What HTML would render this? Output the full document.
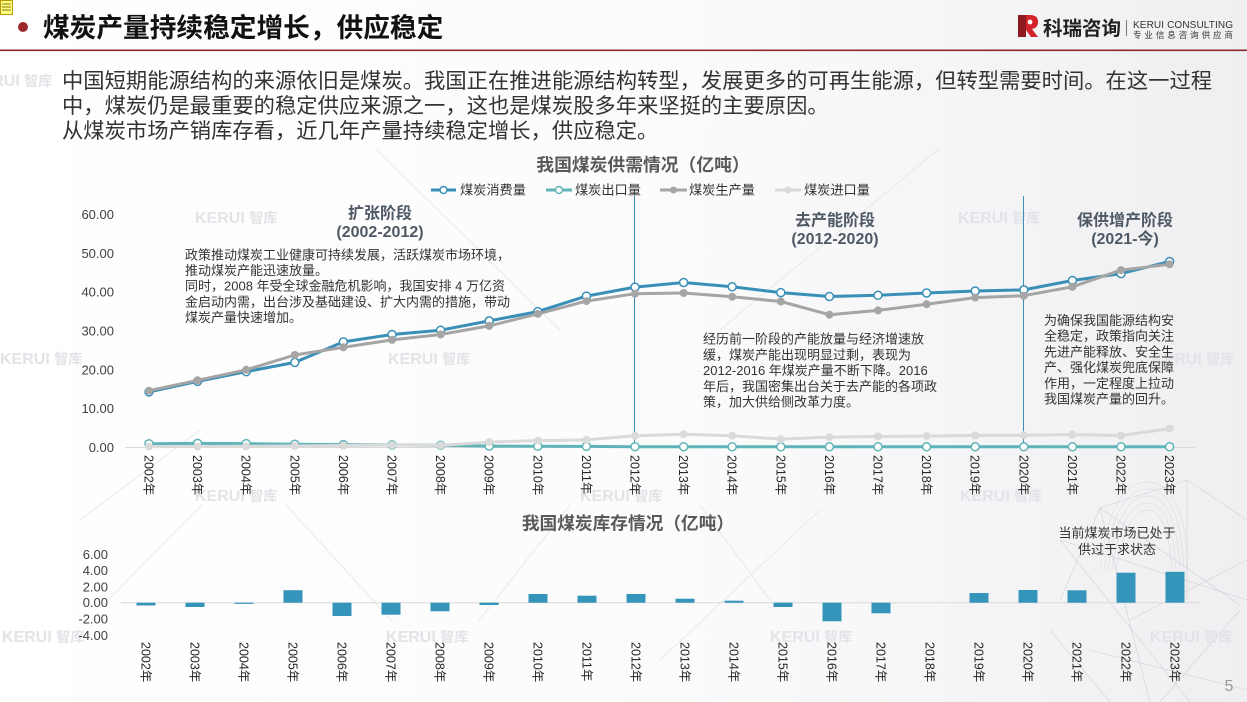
<!DOCTYPE html>
<html><head><meta charset="utf-8">
<style>
html,body{margin:0;padding:0;width:1247px;height:702px;overflow:hidden;background:#fff}
svg{display:block}
text{font-family:"Liberation Sans","Noto Sans CJK SC",sans-serif}
</style></head>
<body>
<svg width="1247" height="702" viewBox="0 0 1247 702" xmlns="http://www.w3.org/2000/svg">
<defs>
<linearGradient id="bg" x1="0" y1="0" x2="1" y2="0">
<stop offset="0" stop-color="#ffffff"/><stop offset="0.55" stop-color="#fbfbfc"/><stop offset="1" stop-color="#efeff2"/>
</linearGradient>
</defs>
<rect width="1247" height="702" fill="url(#bg)"/>

<!-- faint decorative lines -->
<g stroke="#e9e9eb" stroke-width="1" fill="none">
<line x1="202" y1="505" x2="110" y2="598"/>
<line x1="286" y1="505" x2="393" y2="622"/>
<line x1="570" y1="505" x2="478" y2="622"/>
<line x1="375" y1="148" x2="560" y2="330"/>
<line x1="720" y1="330" x2="940" y2="148"/>
<line x1="200" y1="430" x2="80" y2="520"/>
<line x1="820" y1="510" x2="660" y2="660"/>
<line x1="700" y1="505" x2="770" y2="600"/>
</g>
<!-- mesh bottom right -->
<g stroke="#d2d2d6" stroke-width="0.6" fill="none">
<line x1="1100" y1="508" x2="1187" y2="480"/>
<line x1="1100" y1="508" x2="1150" y2="702"/>
<line x1="1100" y1="508" x2="1240" y2="605"/>
<line x1="1060" y1="540" x2="1190" y2="702"/>
<line x1="1060" y1="540" x2="1247" y2="600"/>
<line x1="1187" y1="480" x2="1187" y2="600"/>
<line x1="1187" y1="480" x2="1247" y2="520"/>
<line x1="1130" y1="620" x2="1247" y2="560"/>
<line x1="1090" y1="650" x2="1247" y2="690"/>
<line x1="1100" y1="508" x2="1060" y2="600"/>
<line x1="1160" y1="702" x2="1240" y2="610"/>
<line x1="1050" y1="630" x2="1110" y2="702"/>
</g>
<g stroke="#d8d8dc" stroke-width="0.5" fill="none">
<path d="M1100,570 Q1110,480 1150,482 Q1185,485 1188,570"/>
<path d="M1104,570 Q1114,487 1150,489 Q1180,492 1184,570"/>
<path d="M1108,570 Q1118,494 1150,496 Q1176,499 1180,570"/>
<path d="M1112,570 Q1122,501 1150,503 Q1172,506 1176,570"/>
<path d="M1116,570 Q1126,508 1150,510 Q1168,513 1172,570"/>
</g>

<!-- watermarks -->
<g fill="#e3e3e8" font-weight="bold">
<text x="195" y="223" font-size="16">KERUI <tspan font-size="14">智库</tspan></text>
<text x="958" y="223" font-size="16">KERUI <tspan font-size="14">智库</tspan></text>
<text x="-30" y="86" font-size="16">KERUI <tspan font-size="14">智库</tspan></text>
<text x="0" y="364" font-size="16">KERUI <tspan font-size="14">智库</tspan></text>
<text x="388" y="364" font-size="16">KERUI <tspan font-size="14">智库</tspan></text>
<text x="1152" y="364" font-size="16">KERUI <tspan font-size="14">智库</tspan></text>
<text x="195" y="501" font-size="16">KERUI <tspan font-size="14">智库</tspan></text>
<text x="580" y="501" font-size="16">KERUI <tspan font-size="14">智库</tspan></text>
<text x="960" y="501" font-size="16">KERUI <tspan font-size="14">智库</tspan></text>
<text x="2" y="642" font-size="16">KERUI <tspan font-size="14">智库</tspan></text>
<text x="386" y="642" font-size="16">KERUI <tspan font-size="14">智库</tspan></text>
<text x="770" y="642" font-size="16">KERUI <tspan font-size="14">智库</tspan></text>
<text x="1150" y="642" font-size="16">KERUI <tspan font-size="14">智库</tspan></text>
</g>

<!-- note icon -->
<rect x="0.5" y="0.5" width="12" height="14" fill="#ffff88" stroke="#b89a00" stroke-width="1"/>
<g stroke="#8a7a00" stroke-width="1"><line x1="2" y1="4" x2="11" y2="4"/><line x1="2" y1="7" x2="11" y2="7"/><line x1="2" y1="10" x2="11" y2="10"/></g>

<!-- header -->
<circle cx="23" cy="27" r="5" fill="#9c2a2a"/>
<text x="43" y="37" font-size="26.7" font-weight="bold" fill="#111">煤炭产量持续稳定增长，供应稳定</text>
<rect x="0" y="49.5" width="1247" height="1.6" fill="#8a2a2a"/>

<!-- logo -->
<path d="M1018,15 L1026,15 L1026,37 L1018,37 Z" fill="#8e1b1f"/>
<path d="M1026,15 L1030,15 Q1038,15 1038,22 Q1038,28 1032,29 L1038,37 L1031,37 L1026,30 Z" fill="#d2232a"/>
<circle cx="1030" cy="22" r="2.4" fill="#fff"/>
<text x="1043" y="35" font-size="19.5" font-weight="bold" fill="#222">科瑞咨询</text>
<line x1="1126.5" y1="20" x2="1126.5" y2="36" stroke="#777" stroke-width="1"/>
<text x="1133" y="28" font-size="10" fill="#333" textLength="100" lengthAdjust="spacing">KERUI CONSULTING</text>
<text x="1133" y="38" font-size="8.5" fill="#333" textLength="100" lengthAdjust="spacing">专业信息咨询供应商</text>

<!-- paragraph -->
<g font-size="21.3" fill="#333">
<text x="62" y="88">中国短期能源结构的来源依旧是煤炭。我国正在推进能源结构转型，发展更多的可再生能源，但转型需要时间。在这一过程</text>
<text x="62" y="113">中，煤炭仍是最重要的稳定供应来源之一，这也是煤炭股多年来坚挺的主要原因。</text>
<text x="62" y="138">从煤炭市场产销库存看，近几年产量持续稳定增长，供应稳定。</text>
</g>

<!-- top chart title & legend -->
<text x="643" y="171" font-size="17.8" font-weight="bold" fill="#595959" text-anchor="middle">我国煤炭供需情况（亿吨）</text>
<g font-size="13.2" fill="#333">
<line x1="431" y1="190" x2="456" y2="190" stroke="#3a8fb7" stroke-width="3"/>
<circle cx="443.5" cy="190" r="3.5" fill="#fff" stroke="#3a8fb7" stroke-width="1.5"/>
<text x="460" y="194.5">煤炭消费量</text>
<line x1="546" y1="190" x2="572" y2="190" stroke="#5fb4b8" stroke-width="3"/>
<circle cx="559" cy="190" r="3.5" fill="#fff" stroke="#5fb4b8" stroke-width="1.5"/>
<text x="575" y="194.5">煤炭出口量</text>
<line x1="660" y1="190" x2="687" y2="190" stroke="#a5a5a5" stroke-width="3"/>
<circle cx="673.5" cy="190" r="3.5" fill="#a5a5a5"/>
<text x="689" y="194.5">煤炭生产量</text>
<line x1="775" y1="190" x2="801" y2="190" stroke="#dadada" stroke-width="3"/>
<circle cx="788" cy="190" r="3.5" fill="#dadada"/>
<text x="804" y="194.5">煤炭进口量</text>
</g>

<!-- y axis top -->
<g font-size="13" fill="#404040" text-anchor="end">
<text x="114" y="219">60.00</text>
<text x="114" y="257.8">50.00</text>
<text x="114" y="296.7">40.00</text>
<text x="114" y="335.5">30.00</text>
<text x="114" y="374.4">20.00</text>
<text x="114" y="413.2">10.00</text>
<text x="114" y="452">0.00</text>
</g>
<line x1="125" y1="447.5" x2="1195" y2="447.5" stroke="#d9d9d9" stroke-width="1"/>

<!-- vertical phase lines -->
<line x1="634.5" y1="196" x2="634.5" y2="447" stroke="#3a8fb7" stroke-width="1"/>
<line x1="1023.5" y1="196" x2="1023.5" y2="447" stroke="#3a8fb7" stroke-width="1"/>

<!-- phase labels -->
<g font-size="16" font-weight="bold" fill="#4f5965" text-anchor="middle">
<text x="380" y="218.5">扩张阶段</text>
<text x="380" y="237">(2002-2012)</text>
<text x="835" y="225.5">去产能阶段</text>
<text x="835" y="244">(2012-2020)</text>
<text x="1125" y="225.5">保供增产阶段</text>
<text x="1125" y="244">(2021-今)</text>
</g>

<!-- annotations -->
<g font-size="13" fill="#333">
<text x="185" y="259.5">政策推动煤炭工业健康可持续发展，活跃煤炭市场环境，</text>
<text x="185" y="275.1">推动煤炭产能迅速放量。</text>
<text x="185" y="290.7">同时，2008 年受全球金融危机影响，我国安排 4 万亿资</text>
<text x="185" y="306.3">金启动内需，出台涉及基础建设、扩大内需的措施，带动</text>
<text x="185" y="321.9">煤炭产量快速增加。</text>

<text x="703" y="343.5">经历前一阶段的产能放量与经济增速放</text>
<text x="703" y="359.3">缓，煤炭产能出现明显过剩，表现为</text>
<text x="703" y="375.1">2012-2016 年煤炭产量不断下降。2016</text>
<text x="703" y="390.9">年后，我国密集出台关于去产能的各项政</text>
<text x="703" y="406.7">策，加大供给侧改革力度。</text>

<text x="1044" y="325">为确保我国能源结构安</text>
<text x="1044" y="340.7">全稳定，政策指向关注</text>
<text x="1044" y="356.4">先进产能释放、安全生</text>
<text x="1044" y="372.1">产、强化煤炭兜底保障</text>
<text x="1044" y="387.8">作用，一定程度上拉动</text>
<text x="1044" y="403.5">我国煤炭产量的回升。</text>
</g>

<!-- series -->
<polyline fill="none" stroke="#3a8fb7" stroke-width="3" stroke-linejoin="round" points="149,391.9 197.6,381.4 246.2,371.7 294.8,362.4 343.4,341.9 392,334.5 440.6,330.2 489.2,320.9 537.8,311.6 586.4,296.1 635,287.1 683.6,282.5 732.2,286.8 780.8,292.6 829.4,296.5 878,295.3 926.6,293.0 975.2,291.0 1023.8,289.9 1072.4,280.5 1121,273.6 1169.6,261.5"/>
<g fill="#fff" stroke="#3a8fb7" stroke-width="1.5">
<circle cx="149" cy="391.9" r="4"/><circle cx="197.6" cy="381.4" r="4"/><circle cx="246.2" cy="371.7" r="4"/><circle cx="294.8" cy="362.4" r="4"/><circle cx="343.4" cy="341.9" r="4"/><circle cx="392" cy="334.5" r="4"/><circle cx="440.6" cy="330.2" r="4"/><circle cx="489.2" cy="320.9" r="4"/><circle cx="537.8" cy="311.6" r="4"/><circle cx="586.4" cy="296.1" r="4"/><circle cx="635" cy="287.1" r="4"/><circle cx="683.6" cy="282.5" r="4"/><circle cx="732.2" cy="286.8" r="4"/><circle cx="780.8" cy="292.6" r="4"/><circle cx="829.4" cy="296.5" r="4"/><circle cx="878" cy="295.3" r="4"/><circle cx="926.6" cy="293" r="4"/><circle cx="975.2" cy="291" r="4"/><circle cx="1023.8" cy="289.9" r="4"/><circle cx="1072.4" cy="280.5" r="4"/><circle cx="1121" cy="273.6" r="4"/><circle cx="1169.6" cy="261.5" r="4"/>
</g>

<polyline fill="none" stroke="#5fb4b8" stroke-width="3" stroke-linejoin="round" points="149,443.7 197.6,443.4 246.2,443.6 294.8,444.2 343.4,444.6 392,444.9 440.6,445.3 489.2,446.1 537.8,446.3 586.4,446.4 635,446.7 683.6,446.7 732.2,446.8 780.8,446.8 829.4,446.8 878,446.8 926.6,446.8 975.2,446.8 1023.8,446.8 1072.4,446.8 1121,446.8 1169.6,446.8"/>
<g fill="#fff" stroke="#5fb4b8" stroke-width="1.5">
<circle cx="149" cy="443.7" r="4"/><circle cx="197.6" cy="443.4" r="4"/><circle cx="246.2" cy="443.6" r="4"/><circle cx="294.8" cy="444.2" r="4"/><circle cx="343.4" cy="444.6" r="4"/><circle cx="392" cy="444.9" r="4"/><circle cx="440.6" cy="445.3" r="4"/><circle cx="489.2" cy="446.1" r="4"/><circle cx="537.8" cy="446.3" r="4"/><circle cx="586.4" cy="446.4" r="4"/><circle cx="635" cy="446.7" r="4"/><circle cx="683.6" cy="446.7" r="4"/><circle cx="732.2" cy="446.8" r="4"/><circle cx="780.8" cy="446.8" r="4"/><circle cx="829.4" cy="446.8" r="4"/><circle cx="878" cy="446.8" r="4"/><circle cx="926.6" cy="446.8" r="4"/><circle cx="975.2" cy="446.8" r="4"/><circle cx="1023.8" cy="446.8" r="4"/><circle cx="1072.4" cy="446.8" r="4"/><circle cx="1121" cy="446.8" r="4"/><circle cx="1169.6" cy="446.8" r="4"/>
</g>

<polyline fill="none" stroke="#a5a5a5" stroke-width="3" stroke-linejoin="round" points="149,390.7 197.6,380.3 246.2,369.8 294.8,355 343.4,347.3 392,339.9 440.6,334.5 489.2,325.9 537.8,313.9 586.4,301.1 635,293.7 683.6,293 732.2,296.8 780.8,301.5 829.4,314.7 878,310.4 926.6,304.2 975.2,297.6 1023.8,295.7 1072.4,286.8 1121,270.1 1169.6,264.3"/>
<g fill="#a5a5a5">
<circle cx="149" cy="390.7" r="4"/><circle cx="197.6" cy="380.3" r="4"/><circle cx="246.2" cy="369.8" r="4"/><circle cx="294.8" cy="355" r="4"/><circle cx="343.4" cy="347.3" r="4"/><circle cx="392" cy="339.9" r="4"/><circle cx="440.6" cy="334.5" r="4"/><circle cx="489.2" cy="325.9" r="4"/><circle cx="537.8" cy="313.9" r="4"/><circle cx="586.4" cy="301.1" r="4"/><circle cx="635" cy="293.7" r="4"/><circle cx="683.6" cy="293" r="4"/><circle cx="732.2" cy="296.8" r="4"/><circle cx="780.8" cy="301.5" r="4"/><circle cx="829.4" cy="314.7" r="4"/><circle cx="878" cy="310.4" r="4"/><circle cx="926.6" cy="304.2" r="4"/><circle cx="975.2" cy="297.6" r="4"/><circle cx="1023.8" cy="295.7" r="4"/><circle cx="1072.4" cy="286.8" r="4"/><circle cx="1121" cy="270.1" r="4"/><circle cx="1169.6" cy="264.3" r="4"/>
</g>

<polyline fill="none" stroke="#dadada" stroke-width="3" stroke-linejoin="round" points="149,446.6 197.6,446.6 246.2,446.3 294.8,446 343.4,445.5 392,445 440.6,445.4 489.2,442.1 537.8,440.6 586.4,439.9 635,435.8 683.6,434.3 732.2,435.7 780.8,439.1 829.4,437.1 878,436.5 926.6,436.1 975.2,435.4 1023.8,435.2 1072.4,434.5 1121,435.6 1169.6,428.6"/>
<g fill="#dadada">
<circle cx="149" cy="446.6" r="4"/><circle cx="197.6" cy="446.6" r="4"/><circle cx="246.2" cy="446.3" r="4"/><circle cx="294.8" cy="446" r="4"/><circle cx="343.4" cy="445.5" r="4"/><circle cx="392" cy="445" r="4"/><circle cx="440.6" cy="445.4" r="4"/><circle cx="489.2" cy="442.1" r="4"/><circle cx="537.8" cy="440.6" r="4"/><circle cx="586.4" cy="439.9" r="4"/><circle cx="635" cy="435.8" r="4"/><circle cx="683.6" cy="434.3" r="4"/><circle cx="732.2" cy="435.7" r="4"/><circle cx="780.8" cy="439.1" r="4"/><circle cx="829.4" cy="437.1" r="4"/><circle cx="878" cy="436.5" r="4"/><circle cx="926.6" cy="436.1" r="4"/><circle cx="975.2" cy="435.4" r="4"/><circle cx="1023.8" cy="435.2" r="4"/><circle cx="1072.4" cy="434.5" r="4"/><circle cx="1121" cy="435.6" r="4"/><circle cx="1169.6" cy="428.6" r="4"/>
</g>

<!-- top x labels -->
<g font-size="12.5" fill="#262626">
<text transform="translate(149,455) rotate(90)" dy="4.5">2002年</text>
<text transform="translate(197.6,455) rotate(90)" dy="4.5">2003年</text>
<text transform="translate(246.2,455) rotate(90)" dy="4.5">2004年</text>
<text transform="translate(294.8,455) rotate(90)" dy="4.5">2005年</text>
<text transform="translate(343.4,455) rotate(90)" dy="4.5">2006年</text>
<text transform="translate(392,455) rotate(90)" dy="4.5">2007年</text>
<text transform="translate(440.6,455) rotate(90)" dy="4.5">2008年</text>
<text transform="translate(489.2,455) rotate(90)" dy="4.5">2009年</text>
<text transform="translate(537.8,455) rotate(90)" dy="4.5">2010年</text>
<text transform="translate(586.4,455) rotate(90)" dy="4.5">2011年</text>
<text transform="translate(635,455) rotate(90)" dy="4.5">2012年</text>
<text transform="translate(683.6,455) rotate(90)" dy="4.5">2013年</text>
<text transform="translate(732.2,455) rotate(90)" dy="4.5">2014年</text>
<text transform="translate(780.8,455) rotate(90)" dy="4.5">2015年</text>
<text transform="translate(829.4,455) rotate(90)" dy="4.5">2016年</text>
<text transform="translate(878,455) rotate(90)" dy="4.5">2017年</text>
<text transform="translate(926.6,455) rotate(90)" dy="4.5">2018年</text>
<text transform="translate(975.2,455) rotate(90)" dy="4.5">2019年</text>
<text transform="translate(1023.8,455) rotate(90)" dy="4.5">2020年</text>
<text transform="translate(1072.4,455) rotate(90)" dy="4.5">2021年</text>
<text transform="translate(1121,455) rotate(90)" dy="4.5">2022年</text>
<text transform="translate(1169.6,455) rotate(90)" dy="4.5">2023年</text>
</g>

<!-- bottom chart -->
<text x="628" y="529.5" font-size="17.7" font-weight="bold" fill="#595959" text-anchor="middle">我国煤炭库存情况（亿吨）</text>
<g font-size="13" fill="#333" text-anchor="middle">
<text x="1117" y="537.5">当前煤炭市场已处于</text>
<text x="1117" y="554">供过于求状态</text>
</g>
<g font-size="13" fill="#404040" text-anchor="end">
<text x="108" y="558.8">6.00</text>
<text x="108" y="575">4.00</text>
<text x="108" y="591.3">2.00</text>
<text x="108" y="607.2">0.00</text>
<text x="108" y="623.5">-2.00</text>
<text x="108" y="639.8">-4.00</text>
</g>
<line x1="121" y1="602.7" x2="1200" y2="602.7" stroke="#d9d9d9" stroke-width="1"/>
<g fill="#3594ba">
<rect x="136.5" y="602.7" width="19" height="2.8"/>
<rect x="185.5" y="602.7" width="19" height="4.3"/>
<rect x="234.5" y="602.7" width="19" height="1.2"/>
<rect x="283.5" y="590.2" width="19" height="12.5"/>
<rect x="332.5" y="602.7" width="19" height="13.3"/>
<rect x="381.5" y="602.7" width="19" height="12"/>
<rect x="430.5" y="602.7" width="19" height="8.6"/>
<rect x="479.5" y="602.7" width="19" height="2.3"/>
<rect x="528.5" y="594" width="19" height="8.7"/>
<rect x="577.5" y="595.7" width="19" height="7"/>
<rect x="626.5" y="594" width="19" height="8.7"/>
<rect x="675.5" y="598.7" width="19" height="4"/>
<rect x="724.5" y="600.7" width="19" height="2"/>
<rect x="773.5" y="602.7" width="19" height="4.3"/>
<rect x="822.5" y="602.7" width="19" height="18.6"/>
<rect x="871.5" y="602.7" width="19" height="10.6"/>
<rect x="969.5" y="593" width="19" height="9.7"/>
<rect x="1018.5" y="590" width="19" height="12.7"/>
<rect x="1067.5" y="590.3" width="19" height="12.4"/>
<rect x="1116.5" y="572.7" width="19" height="30"/>
<rect x="1165.5" y="571.8" width="19" height="30.9"/>
</g>
<g font-size="12.5" fill="#262626">
<text transform="translate(146,642) rotate(90)" dy="4.5">2002年</text>
<text transform="translate(195,642) rotate(90)" dy="4.5">2003年</text>
<text transform="translate(244,642) rotate(90)" dy="4.5">2004年</text>
<text transform="translate(293,642) rotate(90)" dy="4.5">2005年</text>
<text transform="translate(342,642) rotate(90)" dy="4.5">2006年</text>
<text transform="translate(391,642) rotate(90)" dy="4.5">2007年</text>
<text transform="translate(440,642) rotate(90)" dy="4.5">2008年</text>
<text transform="translate(489,642) rotate(90)" dy="4.5">2009年</text>
<text transform="translate(538,642) rotate(90)" dy="4.5">2010年</text>
<text transform="translate(587,642) rotate(90)" dy="4.5">2011年</text>
<text transform="translate(636,642) rotate(90)" dy="4.5">2012年</text>
<text transform="translate(685,642) rotate(90)" dy="4.5">2013年</text>
<text transform="translate(734,642) rotate(90)" dy="4.5">2014年</text>
<text transform="translate(783,642) rotate(90)" dy="4.5">2015年</text>
<text transform="translate(832,642) rotate(90)" dy="4.5">2016年</text>
<text transform="translate(881,642) rotate(90)" dy="4.5">2017年</text>
<text transform="translate(930,642) rotate(90)" dy="4.5">2018年</text>
<text transform="translate(979,642) rotate(90)" dy="4.5">2019年</text>
<text transform="translate(1028,642) rotate(90)" dy="4.5">2020年</text>
<text transform="translate(1077,642) rotate(90)" dy="4.5">2021年</text>
<text transform="translate(1126,642) rotate(90)" dy="4.5">2022年</text>
<text transform="translate(1175,642) rotate(90)" dy="4.5">2023年</text>
</g>

<text x="1229" y="691" font-size="16" fill="#9a9a9a" text-anchor="middle">5</text>
</svg>
</body></html>
